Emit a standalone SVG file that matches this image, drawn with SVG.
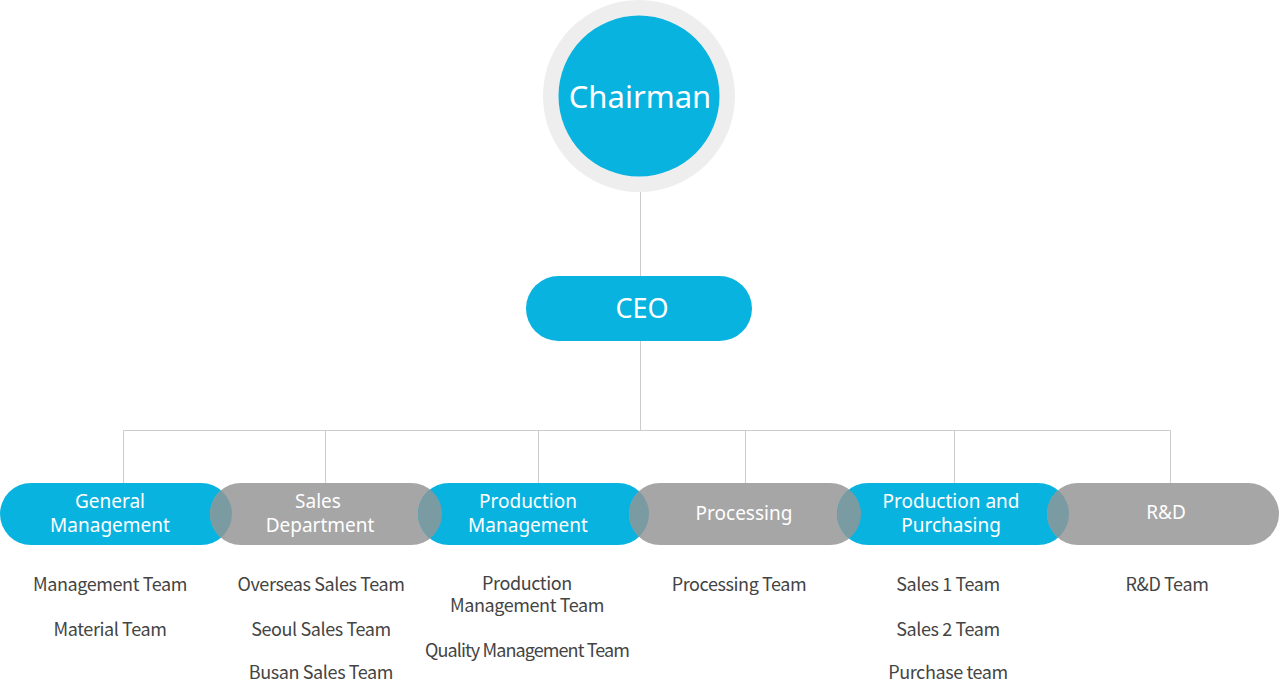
<svg xmlns="http://www.w3.org/2000/svg" width="1279" height="681" viewBox="0 0 1279 681">
<style>
.blue{fill:#08b3e0}
.gray{fill:#a6a6a6}
.lens{fill:#7b9ba3}
.lbl{font-family:"Noto Sans","Open Sans",sans-serif;fill:#fff;font-size:19px;text-anchor:middle}
.big{font-size:27px}
.team{font-family:"Noto Sans CJK KR","Noto Sans",sans-serif;fill:#444;font-size:18px;letter-spacing:-0.4px;text-anchor:middle}
.tight{letter-spacing:-0.9px}
.ln{stroke:#cccccc;stroke-width:1;fill:none}
</style>
<defs>
<clipPath id="c1"><rect x="0" y="483" width="232" height="62" rx="31"/></clipPath>
<clipPath id="c2"><rect x="210" y="483" width="232" height="62" rx="31"/></clipPath>
<clipPath id="c3"><rect x="418" y="483" width="231" height="62" rx="31"/></clipPath>
<clipPath id="c4"><rect x="629" y="483" width="232" height="62" rx="31"/></clipPath>
<clipPath id="c5"><rect x="837" y="483" width="232" height="62" rx="31"/></clipPath>
</defs>
<rect width="1279" height="681" fill="#fff"/>
<g id="connectors">
<path class="ln" d="M640.5 192V276M640.5 341V430.5M123.5 430.5H1170.5M123.5 430.5V483M325.5 430.5V483M538.5 430.5V483M745.5 430.5V483M954.5 430.5V483M1170.5 430.5V483"/>
</g>
<g id="chairman">
<circle cx="639" cy="96" r="96" fill="#eeeeee"/>
<circle cx="639" cy="96" r="80.5" class="blue"/>
<text x="640" y="108" class="lbl" style="font-size:31px">Chairman</text>
</g>
<g id="ceo">
<rect x="526" y="276" width="226" height="65" rx="32.5" class="blue"/>
<text x="642" y="318" class="lbl big">CEO</text>
</g>
<g id="general-management">
<rect x="0" y="483" width="232" height="62" rx="31" class="blue"/>
<text class="lbl" x="110" y="508">General</text>
<text class="lbl" x="110" y="532">Management</text>
</g>
<g id="sales-department">
<rect x="210" y="483" width="232" height="62" rx="31" class="gray"/>
<rect x="210" y="483" width="232" height="62" rx="31" class="lens" clip-path="url(#c1)"/>
<text class="lbl" x="318" y="508">Sales</text>
<text class="lbl" x="320" y="532">Department</text>
</g>
<g id="production-management">
<rect x="418" y="483" width="231" height="62" rx="31" class="blue"/>
<rect x="418" y="483" width="231" height="62" rx="31" class="lens" clip-path="url(#c2)"/>
<text class="lbl" x="528" y="508">Production</text>
<text class="lbl" x="528" y="532">Management</text>
</g>
<g id="processing">
<rect x="629" y="483" width="232" height="62" rx="31" class="gray"/>
<rect x="629" y="483" width="232" height="62" rx="31" class="lens" clip-path="url(#c3)"/>
<text class="lbl" x="744" y="520">Processing</text>
</g>
<g id="production-purchasing">
<rect x="837" y="483" width="232" height="62" rx="31" class="blue"/>
<rect x="837" y="483" width="232" height="62" rx="31" class="lens" clip-path="url(#c4)"/>
<text class="lbl" x="951" y="508">Production and</text>
<text class="lbl" x="951" y="532">Purchasing</text>
</g>
<g id="rnd">
<rect x="1047" y="483" width="232" height="62" rx="31" class="gray"/>
<rect x="1047" y="483" width="232" height="62" rx="31" class="lens" clip-path="url(#c5)"/>
<text class="lbl" x="1166" y="519">R&amp;D</text>
</g>
<g id="teams">
<text class="team" x="110" y="591">Management Team</text>
<text class="team" x="110" y="636">Material Team</text>
<text class="team" x="321" y="591">Overseas Sales Team</text>
<text class="team" x="321" y="636">Seoul Sales Team</text>
<text class="team" x="321" y="679">Busan Sales Team</text>
<text class="team" x="527" y="590">Production</text>
<text class="team" x="527" y="612">Management Team</text>
<text class="team tight" x="527" y="657">Quality Management Team</text>
<text class="team" x="739" y="591">Processing Team</text>
<text class="team" x="948" y="591">Sales 1 Team</text>
<text class="team" x="948" y="636">Sales 2 Team</text>
<text class="team" x="948" y="679">Purchase team</text>
<text class="team" x="1167" y="591">R&amp;D Team</text>
</g>
</svg>
